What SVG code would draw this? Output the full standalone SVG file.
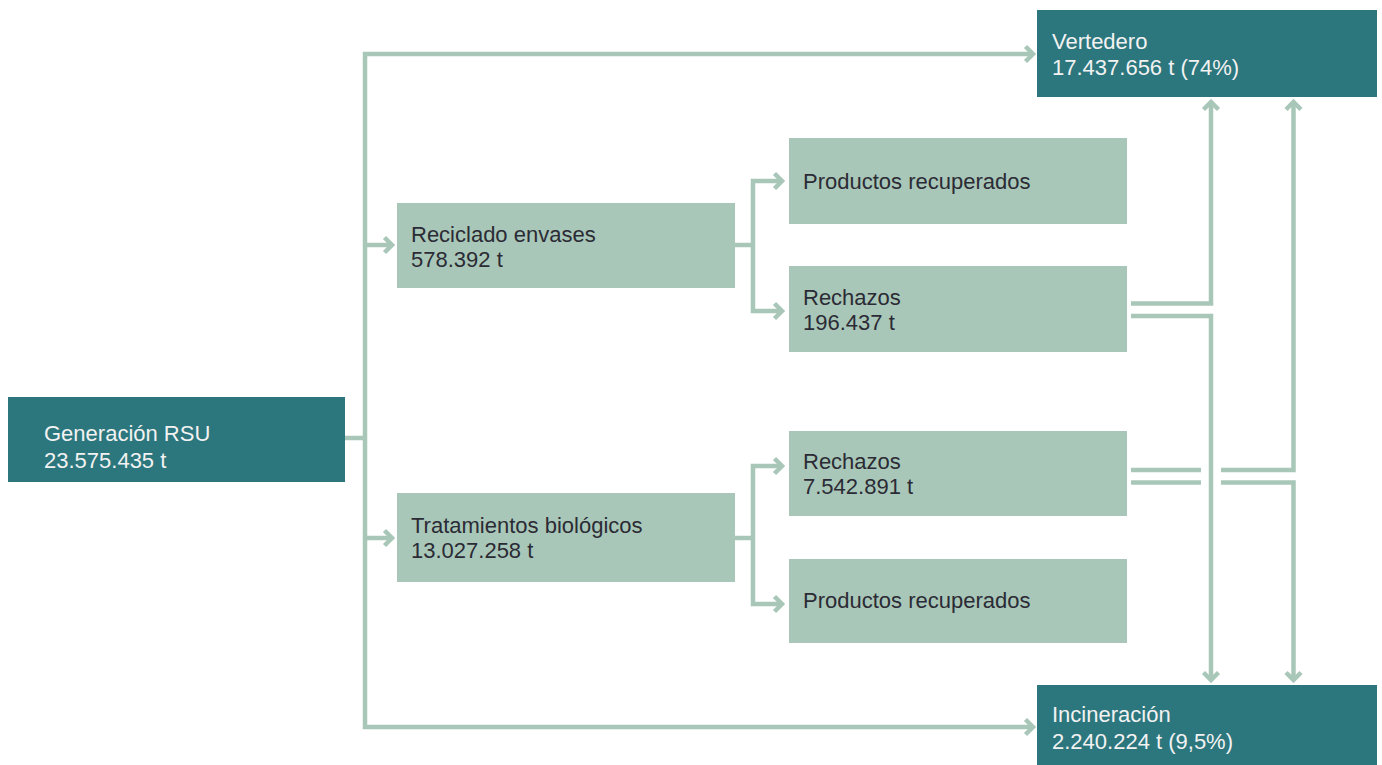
<svg xmlns="http://www.w3.org/2000/svg" width="1382" height="765" viewBox="0 0 1382 765">
<style>
.dark{fill:#2c767d}
.light{fill:#a9c7b8}
text{font-family:"Liberation Sans",Arial,sans-serif;font-size:22px}
.tw{fill:#f2f2f2}
.tb{fill:#2b2b35}
.conn path{fill:none;stroke:#a9c7b8;stroke-width:4.5}
</style>
<defs>
<marker id="arr" markerUnits="userSpaceOnUse" viewBox="-12 -12 16 24" markerWidth="16" markerHeight="24" refX="0" refY="0" orient="auto" overflow="visible">
<path d="M-7.5,-7.5 L0,0 L-7.5,7.5" fill="none" stroke="#a9c7b8" stroke-width="4.5"/>
</marker>
</defs>
<rect width="1382" height="765" fill="#ffffff"/>
<g class="conn">
<path d="M345,438 H365"/>
<path d="M365,438 V54 H1033" marker-end="url(#arr)"/>
<path d="M365,438 V727 H1033" marker-end="url(#arr)"/>
<path d="M365,245 H392" marker-end="url(#arr)"/>
<path d="M365,538 H392" marker-end="url(#arr)"/>
<path d="M735,245 H753"/>
<path d="M753,245 V181 H782" marker-end="url(#arr)"/>
<path d="M753,245 V311 H782" marker-end="url(#arr)"/>
<path d="M735,538 H753"/>
<path d="M753,538 V466 H782" marker-end="url(#arr)"/>
<path d="M753,538 V604 H782" marker-end="url(#arr)"/>
<path d="M1131,303.5 H1211 V102" marker-end="url(#arr)"/>
<path d="M1131,316 H1211 V680" marker-end="url(#arr)"/>
<path d="M1131,470 H1201"/>
<path d="M1221,470 H1293.5 V102" marker-end="url(#arr)"/>
<path d="M1131,482.5 H1201"/>
<path d="M1221,482.5 H1293.5 V680" marker-end="url(#arr)"/>
</g>
<g id="generacion">
<rect class="dark" x="8" y="397" width="337" height="85"/>
<text class="tw" x="44" y="441">Generación RSU</text>
<text class="tw" x="44" y="468">23.575.435 t</text>
</g>
<g id="vertedero">
<rect class="dark" x="1037" y="10" width="340" height="87"/>
<text class="tw" x="1052" y="49">Vertedero</text>
<text class="tw" x="1052" y="75">17.437.656 t (74%)</text>
</g>
<g id="incineracion">
<rect class="dark" x="1037" y="685" width="340" height="80"/>
<text class="tw" x="1052" y="722">Incineración</text>
<text class="tw" x="1052" y="749">2.240.224 t (9,5%)</text>
</g>
<g id="reciclado">
<rect class="light" x="397" y="203" width="338" height="85"/>
<text class="tb" x="411" y="242">Reciclado envases</text>
<text class="tb" x="411" y="267">578.392 t</text>
</g>
<g id="tratamientos">
<rect class="light" x="397" y="493" width="338" height="89"/>
<text class="tb" x="411" y="533">Tratamientos biológicos</text>
<text class="tb" x="411" y="558">13.027.258 t</text>
</g>
<g id="productos1">
<rect class="light" x="789" y="138" width="338" height="86"/>
<text class="tb" x="803" y="189">Productos recuperados</text>
</g>
<g id="rechazos1">
<rect class="light" x="789" y="266" width="338" height="86"/>
<text class="tb" x="803" y="305">Rechazos</text>
<text class="tb" x="803" y="330">196.437 t</text>
</g>
<g id="rechazos2">
<rect class="light" x="789" y="431" width="338" height="85"/>
<text class="tb" x="803" y="469">Rechazos</text>
<text class="tb" x="803" y="494">7.542.891 t</text>
</g>
<g id="productos2">
<rect class="light" x="789" y="559" width="338" height="84"/>
<text class="tb" x="803" y="608">Productos recuperados</text>
</g>
</svg>
